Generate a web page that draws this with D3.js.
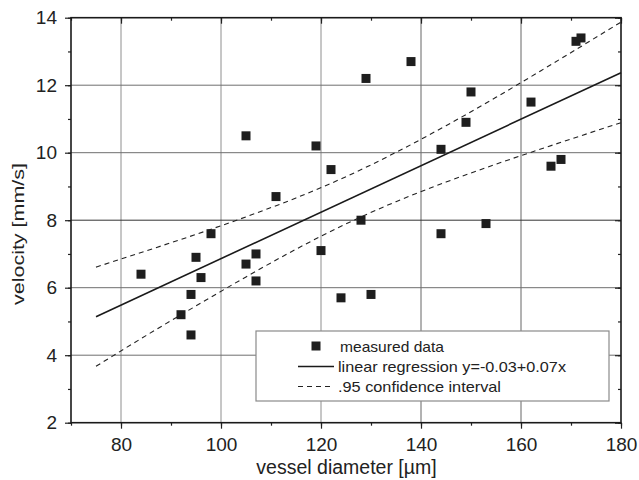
<!DOCTYPE html>
<html>
<head>
<meta charset="utf-8">
<script src="https://cdn.jsdelivr.net/npm/d3@7"></script>
<style>
  body { margin: 0; background: #fff; }
  text { font-family: "Liberation Sans", Arial, sans-serif; fill: #222; }
</style>
</head>
<body>
<div class="chart"></div>
<script>
// measured points
const diameter = [84, 92, 94, 94, 95, 96, 98, 105, 105, 107, 107, 111, 119, 120, 122,
  124, 128, 129, 130, 138, 144, 144, 149, 150, 153, 162, 166, 168, 171, 172]
const velocity = [6.4, 5.2, 4.6, 5.8, 6.9, 6.3, 7.6, 10.5, 6.7, 7.0, 6.2, 8.7, 10.2, 7.1, 9.5,
  5.7, 8.0, 12.2, 5.8, 12.7, 10.1, 7.6, 10.9, 11.8, 7.9, 11.5, 9.6, 9.8, 13.3, 13.4]

// regression line ends
const fitX = [75, 180]
const fitY = [5.14, 12.37]

// confidence band, read at these diameters
const bandX = [75, 85, 95, 105, 115, 125, 135, 145, 155, 165, 180]
const bandUpper = [6.61, 7.09, 7.58, 8.10, 8.66, 9.29, 10.01, 10.80, 11.64, 12.52, 13.87]
const bandLower = [3.67, 4.58, 5.46, 6.32, 7.14, 7.89, 8.55, 9.13, 9.66, 10.16, 10.89]

const xTicks = [80, 100, 120, 140, 160, 180]
const yTicks = [2, 4, 6, 8, 10, 12, 14]
const legendLabels = ['measured data', 'linear regression y=-0.03+0.07x', '.95 confidence interval']

const width = 639
const height = 480
const pLeft = 71, pRight = 621, pTop = 17.7, pBottom = 422.7

const svg = d3.select('.chart').append('svg')
  .attr('width', width)
  .attr('height', height)

const x = d3.scaleLinear().domain([70, 180]).range([pLeft, pRight])
const y = d3.scaleLinear().domain([2, 14]).range([pBottom, pTop])

// grid
svg.append('g')
  .selectAll('line')
  .data(xTicks.filter(d => d < 180))
  .join('line')
  .attr('x1', d => x(d)).attr('x2', d => x(d))
  .attr('y1', pTop).attr('y2', pBottom)
  .attr('stroke', d => d < 130 ? '#8e8e8e' : '#666').attr('stroke-width', 1)

svg.append('g')
  .selectAll('line')
  .data(yTicks.filter(d => d > 2 && d < 14))
  .join('line')
  .attr('x1', pLeft).attr('x2', pRight)
  .attr('y1', d => y(d)).attr('y2', d => y(d))
  .attr('stroke', d => d === 8 ? '#333' : '#6e6e6e').attr('stroke-width', 1)

// axes
const minorX = d3.range(70, 181, 10)
const minorY = d3.range(2, 14.1, 1)

function styleAxis(g) {
  g.select('.domain').remove()
  g.selectAll('line').attr('stroke', '#222').attr('stroke-width', 1.2)
  g.selectAll('text').attr('font-size', '19px').attr('fill', '#222')
}

svg.append('g').attr('transform', `translate(0,${pBottom})`)
  .call(d3.axisBottom(x).tickValues(minorX).tickSize(3).tickFormat(''))
  .call(styleAxis)
svg.append('g').attr('transform', `translate(0,${pBottom})`)
  .call(d3.axisBottom(x).tickValues(xTicks).tickSize(6).tickPadding(9))
  .call(styleAxis)

svg.append('g').attr('transform', `translate(0,${pTop})`)
  .call(d3.axisBottom(x).tickValues(minorX).tickSize(3).tickFormat(''))
  .call(styleAxis)
svg.append('g').attr('transform', `translate(0,${pTop})`)
  .call(d3.axisBottom(x).tickValues(xTicks).tickSize(6).tickFormat(''))
  .call(styleAxis)

svg.append('g').attr('transform', `translate(${pLeft},0)`)
  .call(d3.axisLeft(y).tickValues(minorY).tickSize(3).tickFormat(''))
  .call(styleAxis)
svg.append('g').attr('transform', `translate(${pLeft},0)`)
  .call(d3.axisLeft(y).tickValues(yTicks).tickSize(6).tickPadding(8))
  .call(styleAxis)

svg.append('g').attr('transform', `translate(${pRight},0)`)
  .call(d3.axisLeft(y).tickValues(minorY).tickSize(3).tickFormat(''))
  .call(styleAxis)
svg.append('g').attr('transform', `translate(${pRight},0)`)
  .call(d3.axisLeft(y).tickValues(yTicks).tickSize(6).tickFormat(''))
  .call(styleAxis)

// frame
svg.append('rect')
  .attr('x', pLeft).attr('y', pTop)
  .attr('width', pRight - pLeft).attr('height', pBottom - pTop)
  .attr('fill', 'none').attr('stroke', '#1a1a1a').attr('stroke-width', 1.6)

// band and regression
const bandLine = d3.line().curve(d3.curveMonotoneX)
svg.append('path')
  .attr('d', bandLine(bandX.map((d, i) => [x(d), y(bandUpper[i])])))
  .attr('fill', 'none').attr('stroke', '#222').attr('stroke-width', 1.1)
  .attr('stroke-dasharray', '5,4')
svg.append('path')
  .attr('d', bandLine(bandX.map((d, i) => [x(d), y(bandLower[i])])))
  .attr('fill', 'none').attr('stroke', '#222').attr('stroke-width', 1.1)
  .attr('stroke-dasharray', '5,4')

svg.append('path')
  .attr('d', d3.line()(fitX.map((d, i) => [x(d), y(fitY[i])])))
  .attr('fill', 'none').attr('stroke', '#1a1a1a').attr('stroke-width', 1.6)

// points
const ms = 9
svg.append('g')
  .selectAll('rect')
  .data(diameter)
  .join('rect')
  .attr('x', (d, i) => x(d) - ms / 2)
  .attr('y', (d, i) => y(velocity[i]) - ms / 2)
  .attr('width', ms).attr('height', ms)
  .attr('fill', '#1e1e1e')

// legend
const lg = svg.append('g')
lg.append('rect')
  .attr('x', 256).attr('y', 331).attr('width', 353).attr('height', 70)
  .attr('fill', '#fff').attr('stroke', '#8a8a8a').attr('stroke-width', 1.2)

const rowY = [346, 366.5, 386.5]
const labelLen = [104, 228, 163]
lg.append('rect')
  .attr('x', 316 - ms / 2).attr('y', rowY[0] - ms / 2)
  .attr('width', ms).attr('height', ms).attr('fill', '#1e1e1e')
lg.append('line')
  .attr('x1', 298).attr('x2', 334).attr('y1', rowY[1]).attr('y2', rowY[1])
  .attr('stroke', '#1a1a1a').attr('stroke-width', 1.6)
lg.append('line')
  .attr('x1', 298).attr('x2', 334).attr('y1', rowY[2]).attr('y2', rowY[2])
  .attr('stroke', '#222').attr('stroke-width', 1.1).attr('stroke-dasharray', '5,4')

lg.selectAll('text.leg')
  .data(legendLabels)
  .join('text')
  .attr('class', 'leg')
  .attr('x', (d, i) => i === 0 ? 340 : 338)
  .attr('y', (d, i) => rowY[i] + 5.5)
  .attr('font-size', '15px')
  .attr('textLength', (d, i) => labelLen[i])
  .attr('lengthAdjust', 'spacingAndGlyphs')
  .text(d => d)

// axis titles
svg.append('text')
  .attr('x', 346.5).attr('y', 473.5)
  .attr('text-anchor', 'middle')
  .attr('font-size', '19.5px')
  .text('vessel diameter [µm]')

svg.append('text')
  .attr('transform', `translate(24,234) rotate(-90)`)
  .attr('text-anchor', 'middle')
  .attr('font-size', '17px')
  .attr('textLength', 142)
  .attr('lengthAdjust', 'spacingAndGlyphs')
  .text('velocity [mm/s]')
</script>
</body>
</html>
